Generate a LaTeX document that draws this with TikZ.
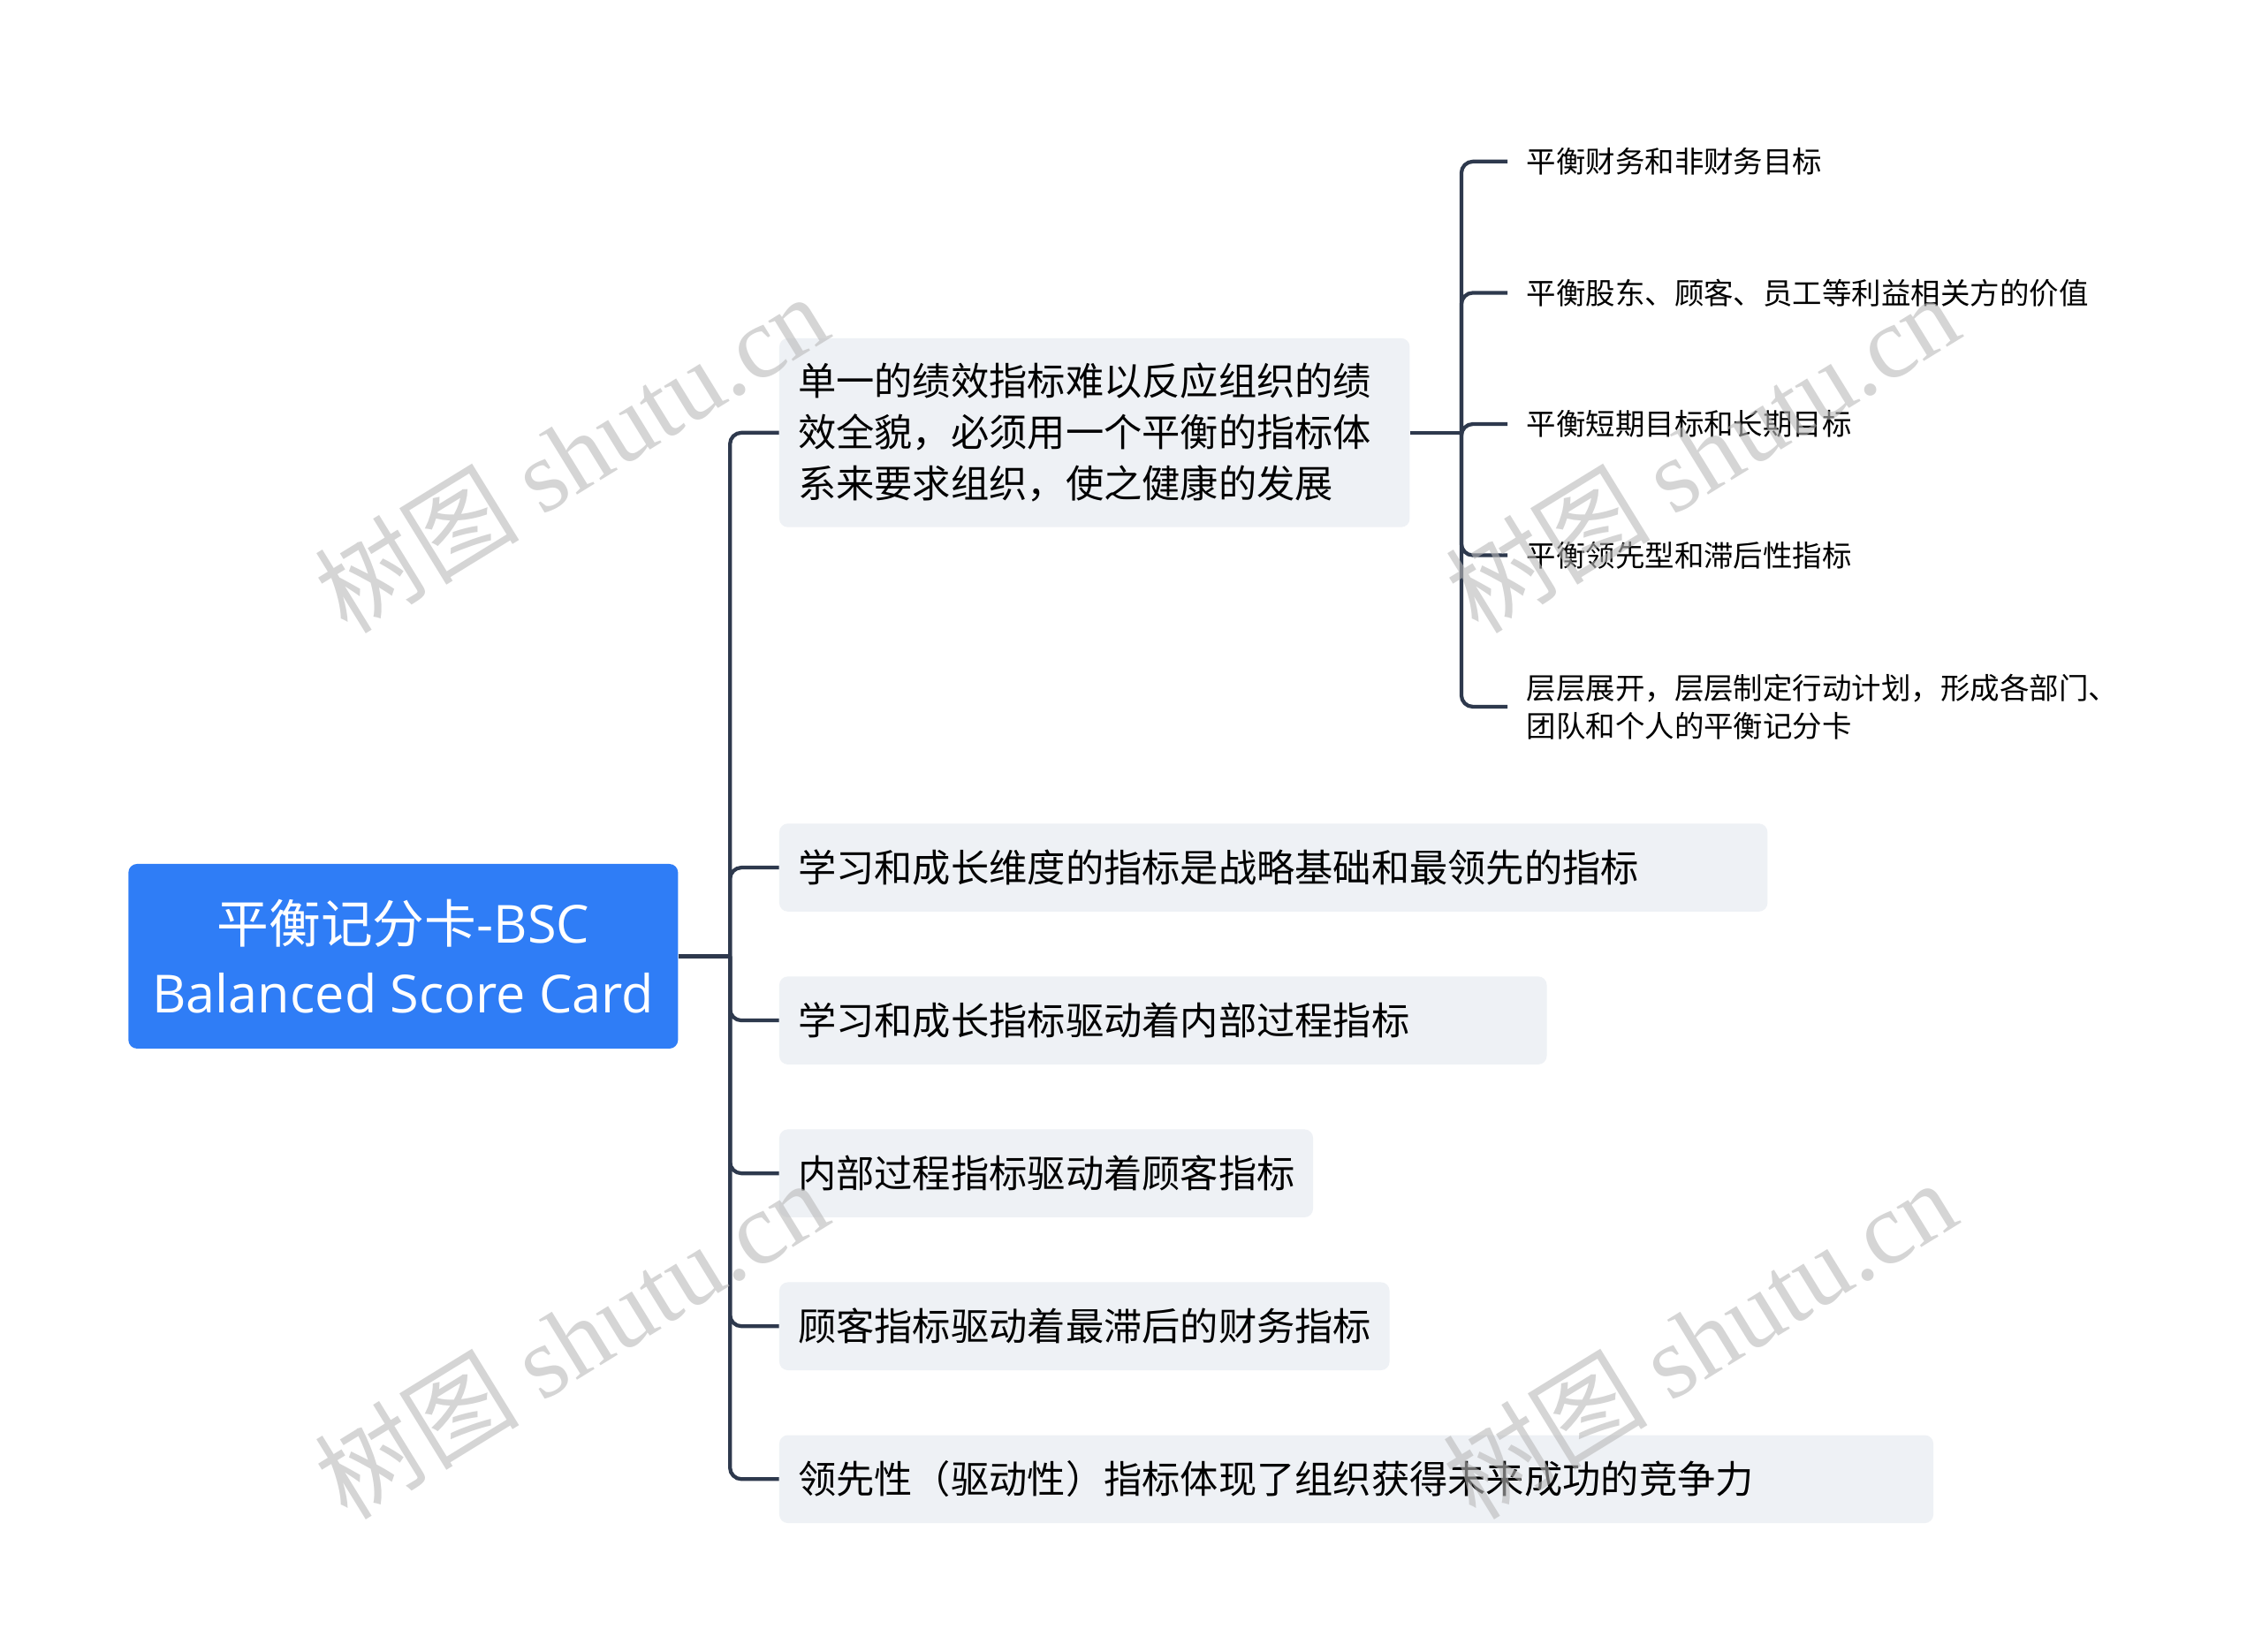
\documentclass[tikz,border=0pt]{standalone}
\usepackage{fontspec}
\setmainfont{Noto Sans CJK SC}
\newfontfamily\latinfont[Scale=1.01]{Open Sans}
\newfontfamily\markfont{Liberation Serif}
\usepackage{tikz}
\usetikzlibrary{positioning}
\definecolor{bscblue}{RGB}{47,125,246}
\definecolor{bscgray}{RGB}{238,241,245}
\definecolor{bscline}{RGB}{46,57,77}
\definecolor{bscmark}{RGB}{185,185,185}

\begin{document}
\begin{tikzpicture}[
  x=1pt, y=-1pt,
  rootbox/.style={fill=bscblue,text=white,rounded corners=6pt,minimum width=381pt,minimum height=128pt,align=center,inner sep=0pt,font=\fontsize{36}{48}\selectfont},
  branchbox/.style={fill=bscgray,rounded corners=6pt,anchor=west,inner xsep=13pt,inner ysep=0pt,minimum height=61pt,align=left,font=\fontsize{26.5}{35.5}\selectfont},
  leaf/.style={anchor=west,inner xsep=13pt,inner ysep=0pt,align=left,font=\fontsize{20.5}{26}\selectfont},
  link/.style={draw=bscline,line width=2.6pt,rounded corners=8pt},
  wmark/.style={text=bscmark,rotate=31.6,font=\fontsize{71}{71}\selectfont,opacity=0.6},
]
  \useasboundingbox[fill=white] (0,0) rectangle (1568,1145);

  % Root
  \node[rootbox] (root) at (279.5,663) {平衡记分卡{\latinfont -BSC}\\{\latinfont Balanced Score Card}};

  % Branches
  \node[branchbox,text width=411pt,minimum height=131pt] (b1) at (540,300) {单一的绩效指标难以反应组织的绩\\效全貌，必须用一个平衡的指标体\\系来要求组织，使之健康的发展};
  \node[branchbox,text width=659pt] (b2) at (540,601.5) {学习和成长维度的指标是战略基础和最领先的指标};
  \node[branchbox,text width=506pt] (b3) at (540,707.5) {学习和成长指标驱动着内部过程指标};
  \node[branchbox,text width=344pt] (b4) at (540,813.5) {内部过程指标驱动着顾客指标};
  \node[branchbox,text width=397pt] (b5) at (540,919.5) {顾客指标驱动着最滞后的财务指标};
  \node[branchbox,text width=774pt] (b6) at (540,1025.5) {领先性（驱动性）指标体现了组织获得未来成功的竞争力};

  % Leaves of b1
  \node[leaf] (s1) at (1045,112) {平衡财务和非财务目标};
  \node[leaf] (s2) at (1045,203) {平衡股东、顾客、员工等利益相关方的价值};
  \node[leaf] (s3) at (1045,294) {平衡短期目标和长期目标};
  \node[leaf] (s4) at (1045,385) {平衡领先型和滞后性指标};
  \node[leaf] (s5) at (1045,490) {层层展开，层层制定行动计划，形成各部门、\\团队和个人的平衡记分卡};

  % Connectors
  \coordinate (rj) at (506,663);
  \draw[link] (root.east) -- (rj);
  \foreach \b in {b1,b2,b3,b4,b5,b6}
    \draw[link] (rj) |- (\b.west);

  \coordinate (sj) at (1013,300);
  \draw[link] (b1.east) -- (sj);
  \foreach \s in {s1,s2,s3,s4,s5}
    \draw[link] (sj) |- (\s.west);

  % Watermarks
  \node[wmark] (wm1) at (396,314) {树图 {\markfont shutu.cn}};
  \node[wmark] (wm2) at (1180,314) {树图 {\markfont shutu.cn}};
  \node[wmark] (wm3) at (396,928) {树图 {\markfont shutu.cn}};
  \node[wmark] (wm4) at (1178,928) {树图 {\markfont shutu.cn}};
\end{tikzpicture}
\end{document}
